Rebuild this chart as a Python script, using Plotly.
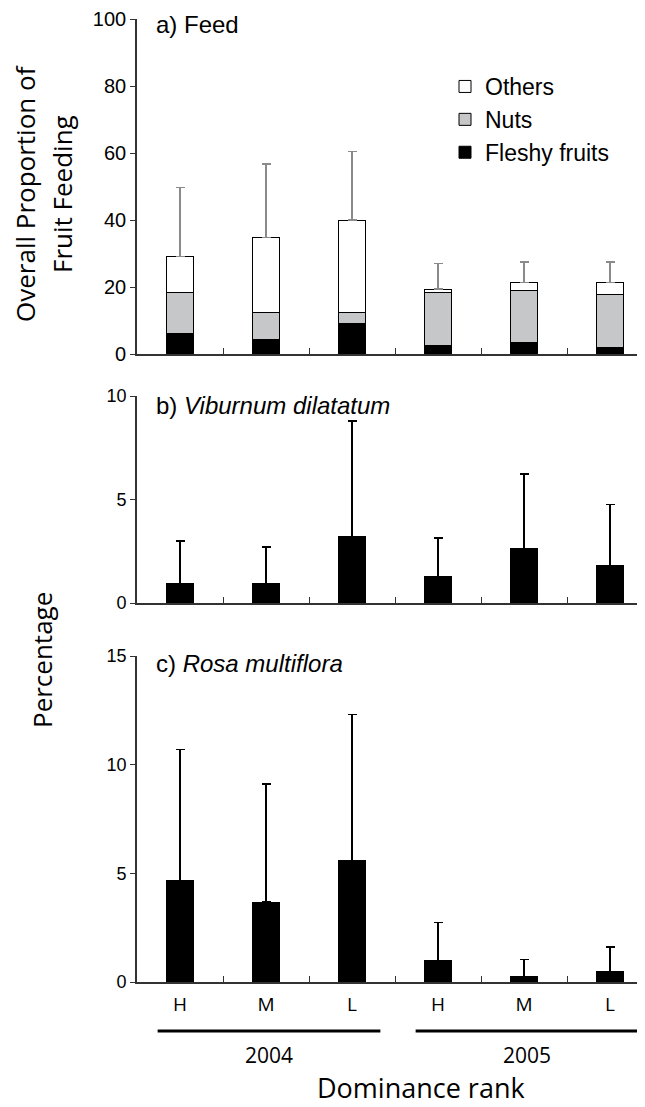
import plotly.graph_objects as go

# ---------------- data ----------------
ranks = ["H", "M", "L", "H", "M", "L"]
years = ["2004", "2005"]

# a) Feed (stacked, %)
fleshy = [6.2, 4.4, 9.2, 2.5, 3.4, 1.9]
nuts = [12.2, 8.1, 3.3, 15.9, 15.7, 15.8]
others = [10.7, 22.3, 27.5, 1.0, 2.2, 3.6]
sd_feed = [20.6, 21.9, 20.4, 7.6, 6.2, 6.2]

# b) Viburnum dilatatum
vd = [0.95, 0.95, 3.2, 1.27, 2.62, 1.79]
sd_vd = [2.05, 1.75, 5.6, 1.88, 3.61, 2.96]

# c) Rosa multiflora
rm = [4.66, 3.68, 5.58, 0.97, 0.25, 0.48]
sd_rm = [6.04, 5.43, 6.74, 1.76, 0.79, 1.13]

# ---------------- figure ----------------
# page body has an 8px default margin -> figure is 8px smaller than the window
OFF = 8
W, H = 645 - OFF, 1107 - OFF

def PX(x_screen):
    return (x_screen - OFF) / W

def PY(y_screen):
    return 1 - (y_screen - OFF) / H

xpos = list(range(len(ranks)))
BW = 0.32
AX = "#333333"
NUM_FONT = "Liberation Sans"
TXT_FONT = "Open Sans"

fig = go.Figure()

def err(sd, color):
    return dict(type="data", array=sd, arrayminus=[0] * len(sd), symmetric=False,
                color=color, thickness=1.5, width=4.5)

fig.add_trace(go.Bar(x=xpos, y=fleshy, name="Fleshy fruits", width=BW,
                     marker=dict(color="black", line=dict(color="black", width=1)),
                     xaxis="x", yaxis="y", legendgroup="g1", legendrank=3))
fig.add_trace(go.Bar(x=xpos, y=nuts, name="Nuts", width=BW,
                     marker=dict(color="#c6c7c9", line=dict(color="black", width=1)),
                     xaxis="x", yaxis="y", legendgroup="g2", legendrank=2))
fig.add_trace(go.Bar(x=xpos, y=others, name="Others", width=BW,
                     marker=dict(color="white", line=dict(color="black", width=1)),
                     error_y=err(sd_feed, "#8a8a8a"),
                     xaxis="x", yaxis="y", legendgroup="g3", legendrank=1))

fig.add_trace(go.Bar(x=xpos, y=vd, width=BW, showlegend=False,
                     marker=dict(color="black", line=dict(color="black", width=1)),
                     error_y=err(sd_vd, "black"), xaxis="x2", yaxis="y2"))
fig.add_trace(go.Bar(x=xpos, y=rm, width=BW, showlegend=False,
                     marker=dict(color="black", line=dict(color="black", width=1)),
                     error_y=err(sd_rm, "black"), xaxis="x3", yaxis="y3"))
# invisible trace to carry the rank labels axis
fig.add_trace(go.Scatter(x=xpos, y=[0] * len(xpos), mode="markers", marker=dict(opacity=0),
                         showlegend=False, hoverinfo="skip", xaxis="x4", yaxis="y3"))

AXL = 137  # screen x of the y axes
x0 = PX(AXL)
xr = [-0.5, -0.5 + (645 - AXL) / 86.0]

def ydom(bottom_screen, top_screen):
    return [PY(bottom_screen), PY(top_screen)]

xcommon = dict(range=xr, domain=[x0, 1], showline=True, linecolor=AX, linewidth=1.6,
               tickmode="array", tickvals=[i + 0.5 for i in range(len(ranks) - 1)],
               ticks="inside", ticklen=6, tickcolor=AX, tickwidth=1.3, automargin=False,
               showticklabels=False, showgrid=False, zeroline=False, fixedrange=True)
ycommon = dict(showline=True, linecolor=AX, linewidth=1.6, ticks="outside", ticklen=5,
               tickcolor=AX, tickwidth=1.3, showgrid=False, zeroline=False, automargin=False,
               tickfont=dict(family=NUM_FONT, size=18, color="black"))

fig.update_layout(
    width=W, height=H, margin=dict(l=0, r=0, t=0, b=0, pad=0, autoexpand=False),
    plot_bgcolor="white", paper_bgcolor="white", barmode="stack",
    xaxis=dict(**xcommon, anchor="y"),
    xaxis2=dict(**xcommon, anchor="y2"),
    xaxis3=dict(**xcommon, anchor="y3"),
    xaxis4=dict(range=xr, domain=[x0, 1], anchor="y3", overlaying="x3", automargin=False,
                tickmode="array", tickvals=xpos, ticktext=ranks, ticks="",
                showline=False, showgrid=False, zeroline=False, ticklabelstandoff=9,
                tickfont=dict(family=TXT_FONT, size=19, color="black")),
    yaxis=dict(**{**ycommon, "tickfont": dict(family=NUM_FONT, size=20, color="black")},
               domain=ydom(354, 19), range=[0, 100], tickvals=[0, 20, 40, 60, 80, 100], anchor="x"),
    yaxis2=dict(**ycommon, domain=ydom(603, 396), range=[0, 10], tickvals=[0, 5, 10], anchor="x2"),
    yaxis3=dict(**ycommon, domain=ydom(982, 656), range=[0, 15], tickvals=[0, 5, 10, 15], anchor="x3"),
    legend=dict(x=PX(445), y=PY(65), xanchor="left", yanchor="top",
                font=dict(family=NUM_FONT, size=23, color="black"),
                traceorder="grouped", tracegroupgap=0, bgcolor="rgba(0,0,0,0)"),
    showlegend=True,
)

ann = []
def A(text, x, y, size, family, xanchor="center", angle=0, xref="paper"):
    ann.append(dict(text=text, x=x, y=y, xref=xref, yref="paper", showarrow=False,
                    xanchor=xanchor, yanchor="middle", textangle=angle,
                    font=dict(family=family, size=size, color="black")))

A("a) Feed", PX(154), PY(25), 24, NUM_FONT, xanchor="left")
A("b) <i>Viburnum dilatatum</i>", PX(154), PY(405), 24, NUM_FONT, xanchor="left")
A("c) <i>Rosa multiflora</i>", PX(154), PY(663), 24, NUM_FONT, xanchor="left")
A("Overall Proportion of", PX(25), PY(194), 26, TXT_FONT, angle=-90)
A("Fruit Feeding", PX(62), PY(194), 26, TXT_FONT, angle=-90)
A("Percentage", PX(42), PY(660), 26, TXT_FONT, angle=-90)
A("Dominance rank", PX(421), PY(1087), 27, TXT_FONT)

shapes = []
for g, yr in enumerate(years):
    start, end = 3 * g - 0.26, 3 * g + 2.33
    shapes.append(dict(type="line", xref="x3", yref="paper", x0=start, x1=end,
                       y0=PY(1031), y1=PY(1031), line=dict(color="black", width=3)))
    A(yr, (start + end) / 2, PY(1055), 21, TXT_FONT, xref="x3")

fig.update_layout(annotations=ann, shapes=shapes)
fig.write_html("out.html")
